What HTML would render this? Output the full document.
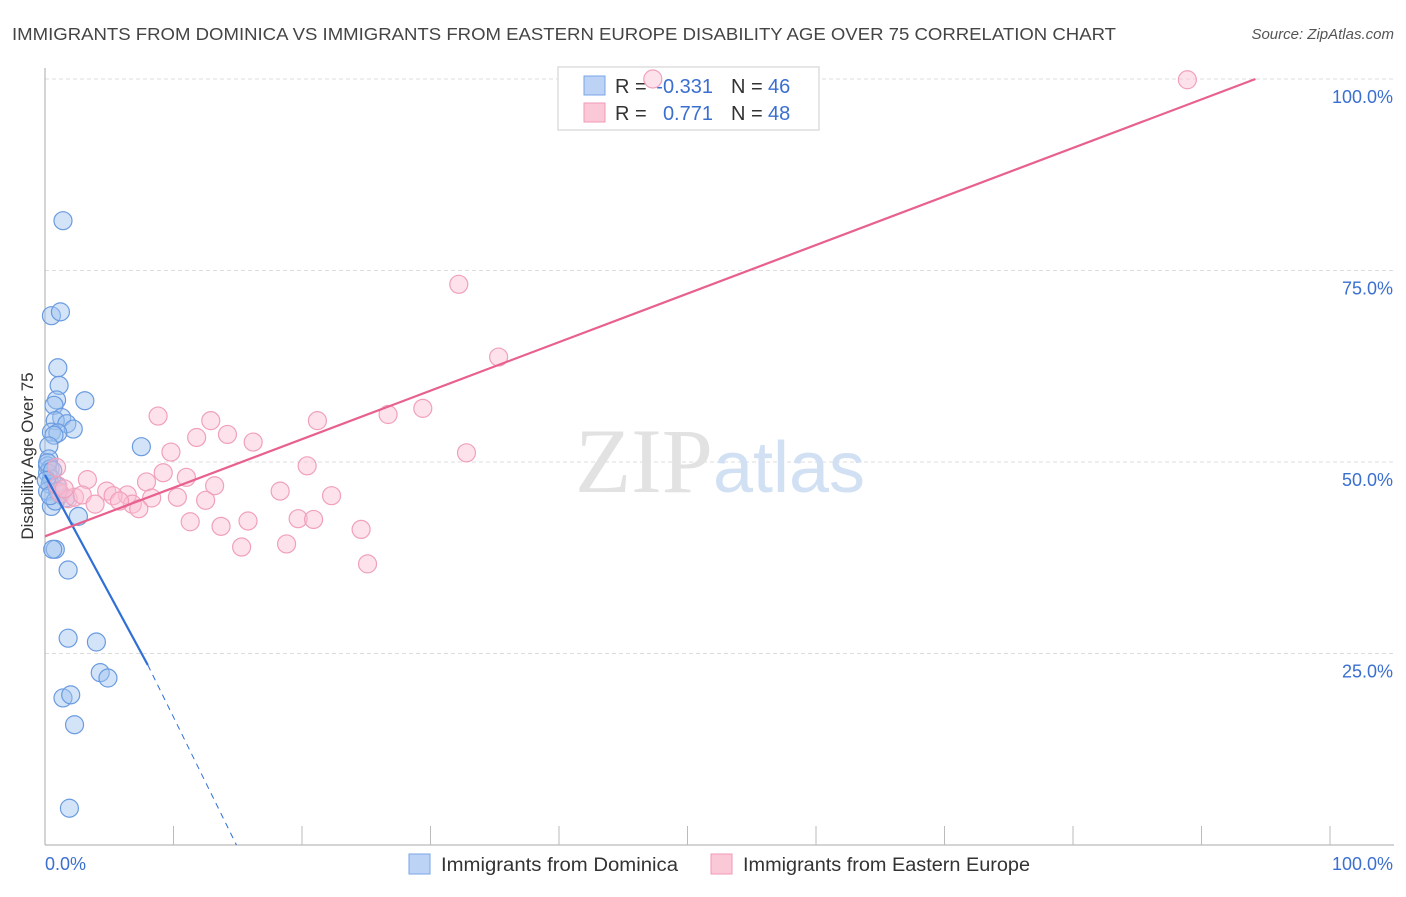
<!DOCTYPE html>
<html><head><meta charset="utf-8"><style>
body{margin:0;background:#fff;font-family:"Liberation Sans",sans-serif}
</style></head><body>
<svg width="1406" height="892" xmlns="http://www.w3.org/2000/svg" font-family="Liberation Sans, sans-serif">
<text x="12" y="40" font-size="17.5" fill="#444" textLength="1104" lengthAdjust="spacingAndGlyphs">IMMIGRANTS FROM DOMINICA VS IMMIGRANTS FROM EASTERN EUROPE DISABILITY AGE OVER 75 CORRELATION CHART</text>
<text x="1394" y="39" font-size="15" fill="#555" font-style="italic" text-anchor="end">Source: ZipAtlas.com</text>
<g id="grid"></g>
<text x="720" y="492" font-size="92" fill="#e2e2e2" text-anchor="middle" font-family="Liberation Serif, serif">ZIP<tspan fill="#d2e0f4" font-family="Liberation Sans, sans-serif" font-size="72">atlas</tspan></text>
<g>
<rect x="558" y="67" width="261" height="63" fill="#fff" stroke="#ddd" stroke-width="1.5"/>
<rect x="584" y="76" width="21" height="19" fill="#bcd3f5" stroke="#7aa6e6"/>
<rect x="584" y="103" width="21" height="19" fill="#fbc8d8" stroke="#f09ab5"/>
<text x="615" y="93" font-size="20" fill="#333">R =</text>
<text x="713" y="93" font-size="20" fill="#3a6fd0" text-anchor="end">-0.331</text>
<text x="731" y="93" font-size="20" fill="#333">N =</text>
<text x="768" y="93" font-size="20" fill="#3a6fd0">46</text>
<text x="615" y="120" font-size="20" fill="#333">R =</text>
<text x="713" y="120" font-size="20" fill="#3a6fd0" text-anchor="end">0.771</text>
<text x="731" y="120" font-size="20" fill="#333">N =</text>
<text x="768" y="120" font-size="20" fill="#3a6fd0">48</text>
</g>
<g id="marks"></g>
<text transform="translate(33,456) rotate(-90)" font-size="17" fill="#333" text-anchor="middle">Disability Age Over 75</text>
<text x="45" y="870" font-size="18" fill="#3a6fd0">0.0%</text>
<text x="1393" y="870" font-size="18" fill="#3a6fd0" text-anchor="end">100.0%</text>
<g>
<rect x="409" y="854" width="21" height="20" fill="#bcd3f5" stroke="#7aa6e6"/>
<text x="441" y="871" font-size="19" fill="#333" textLength="237" lengthAdjust="spacingAndGlyphs">Immigrants from Dominica</text>
<rect x="711" y="854" width="21" height="20" fill="#fbc8d8" stroke="#f09ab5"/>
<text x="743" y="871" font-size="19" fill="#333" textLength="287" lengthAdjust="spacingAndGlyphs">Immigrants from Eastern Europe</text>
</g>
</svg>
<script>
const yTicks=[25,50,75,100];
const yTickLabels=["25.0%","50.0%","75.0%","100.0%"];
const xTicks=[10,20,30,40,50,60,70,80,90,100];
const blueX=[1.4,0.5,1.2,1.0,1.1,0.9,0.7,3.1,1.3,0.8,1.7,2.2,0.5,1.0,0.7,7.5,0.3,0.3,0.2,0.4,0.2,0.5,0.4,0.9,0.2,1.2,1.6,0.5,2.6,0.8,0.6,1.8,1.8,4.0,4.3,4.9,1.4,2.0,2.3,1.9,0.2,0.6,0.1,1.0,0.8,0.4];
const blueY=[81.5,69.1,69.6,62.3,60.0,58.1,57.4,58.0,55.8,55.4,55.0,54.3,53.9,53.8,53.5,52.0,52.1,50.4,49.5,49.1,48.6,47.8,47.1,46.9,46.2,45.8,45.3,44.2,42.9,38.6,38.6,35.9,27.0,26.5,22.5,21.8,19.2,19.6,15.7,4.8,49.9,48.9,47.6,46.2,44.9,45.6];
const pinkX=[47.3,88.9,32.2,35.3,8.8,12.9,26.7,29.4,21.2,14.2,11.8,16.2,9.8,32.8,20.4,9.2,11.0,0.9,3.3,7.9,13.2,18.3,22.3,4.8,6.4,5.3,8.3,10.3,12.5,1.2,1.8,2.3,2.9,3.9,6.8,7.3,5.8,19.7,20.9,11.3,15.8,13.7,24.6,15.3,18.8,25.1,1.0,1.5];
const pinkY=[100,99.9,73.2,63.7,56.0,55.4,56.2,57.0,55.4,53.6,53.2,52.6,51.3,51.2,49.5,48.6,48.0,49.3,47.7,47.4,46.9,46.2,45.6,46.2,45.7,45.6,45.3,45.4,45.0,45.9,45.2,45.4,45.7,44.5,44.5,43.9,44.9,42.6,42.5,42.2,42.3,41.6,41.2,38.9,39.3,36.7,46.9,46.5];
const blueLine=[[0,48.3],[8.0,23.5]];const blueDash=[[8.0,23.5],[14.9,0]];
const pinkLine=[[0,40.3],[94.2,100]];
const NS='http://www.w3.org/2000/svg';
const sx=v=>45+v*12.85, sy=v=>845-v*7.66;
function mk(t,a,p){const e=document.createElementNS(NS,t);for(const k in a)e.setAttribute(k,a[k]);p.appendChild(e);return e;}
const g=document.getElementById('grid'),m=document.getElementById('marks');
yTicks.forEach((t,i)=>{const l=mk('line',{x1:45,x2:1394,y1:sy(t),y2:sy(t),stroke:'#ddd','stroke-dasharray':'4,3'},g);


const tx=mk('text',{x:1393,y:sy(t)+24,'font-size':18,fill:'#3a6fd0','text-anchor':'end'},g);tx.textContent=yTickLabels[i];

});
const ax=mk('line',{x1:45,x2:45,y1:68,y2:845,stroke:'#aaa'},g);


const bx=mk('line',{x1:45,x2:1394,y1:845,y2:845,stroke:'#aaa'},g);


xTicks.forEach(t=>{const l=mk('line',{x1:sx(t),x2:sx(t),y1:826,y2:845,stroke:'#bbb'},g);

});
blueX.forEach((x,i)=>{const c=mk('circle',{cx:sx(x),cy:sy(blueY[i]),r:9,fill:'rgba(160,195,240,0.45)',stroke:'#6a9be0','stroke-width':1.2},m);

});
pinkX.forEach((x,i)=>{const c=mk('circle',{cx:sx(x),cy:sy(pinkY[i]),r:9,fill:'rgba(250,190,210,0.45)',stroke:'#f0a0bc','stroke-width':1.2},m);

});
const l1=mk('line',{x1:sx(blueLine[0][0]),y1:sy(blueLine[0][1]),x2:sx(blueLine[1][0]),y2:sy(blueLine[1][1]),stroke:'#2f6fd6','stroke-width':2.2},m);


const l2=mk('line',{x1:sx(blueDash[0][0]),y1:sy(blueDash[0][1]),x2:sx(blueDash[1][0]),y2:sy(blueDash[1][1]),stroke:'#2f6fd6','stroke-width':1,'stroke-dasharray':'6,5'},m);


const l3=mk('line',{x1:sx(pinkLine[0][0]),y1:sy(pinkLine[0][1]),x2:sx(pinkLine[1][0]),y2:sy(pinkLine[1][1]),stroke:'#e8608e','stroke-width':2.2},m);


</script>
</body></html>
